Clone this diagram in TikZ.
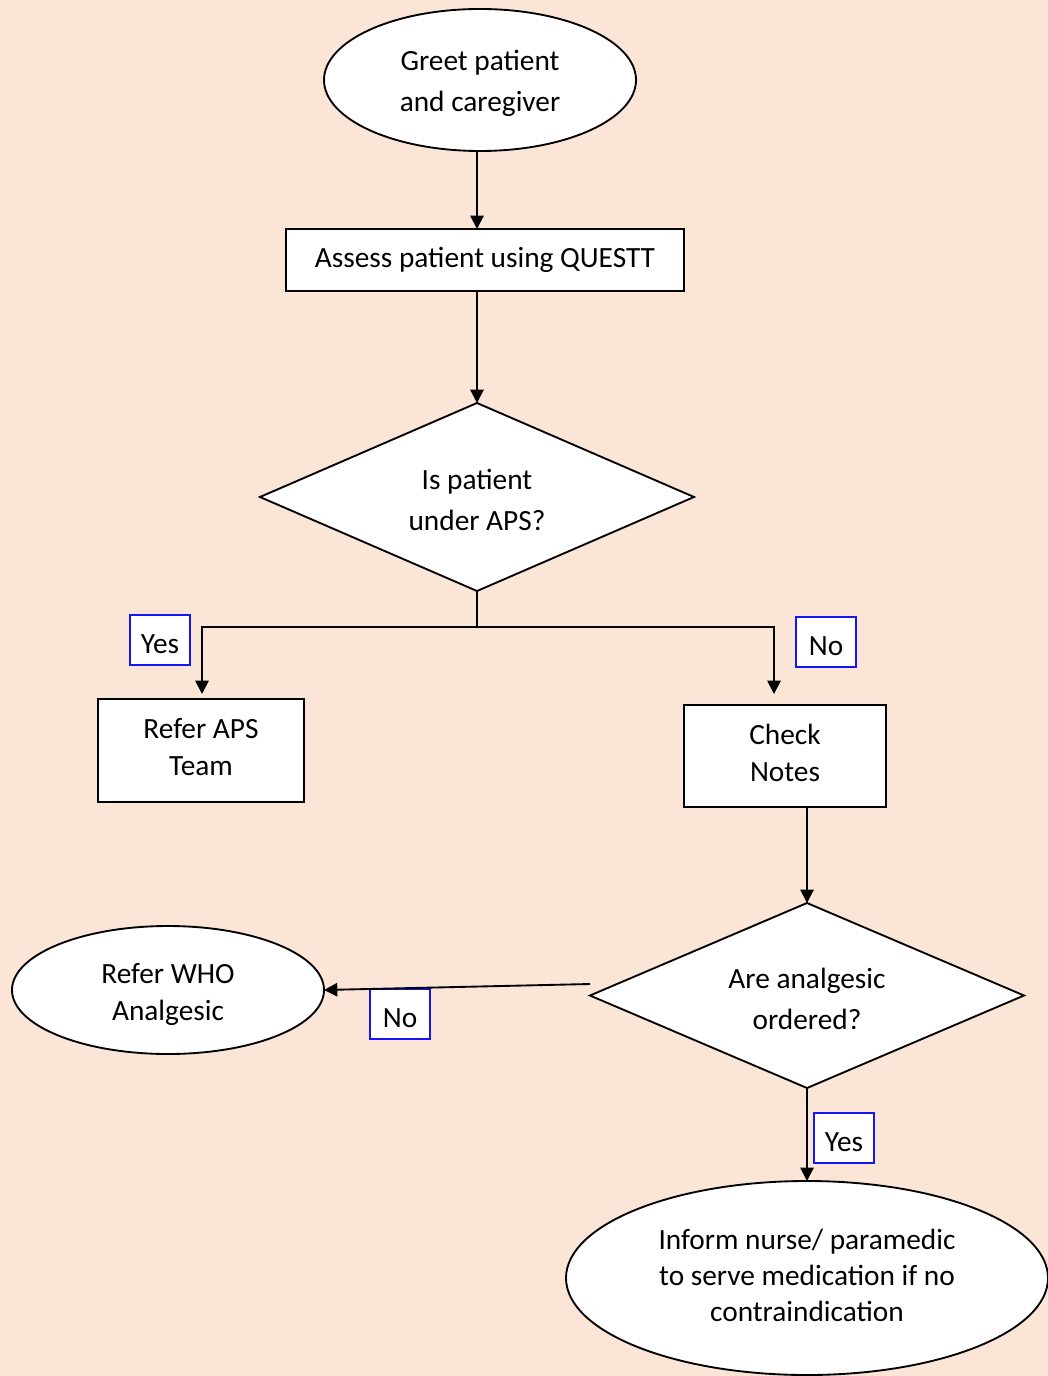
\documentclass[tikz,border=0pt]{standalone}
\usepackage{fontspec}
\setmainfont{Carlito}
\usetikzlibrary{shapes.geometric,arrows.meta}
\definecolor{bgpeach}{RGB}{251,229,214}
\definecolor{lblblue}{RGB}{20,20,245}
\begin{document}
\begin{tikzpicture}[x=0.75pt,y=-0.75pt,
  every node/.style={inner sep=0pt,outer sep=0pt,align=center},
  shp/.style={draw=black,fill=white,line width=1.4pt,font=\fontsize{22}{27.75}\selectfont},
  widefont/.style={font=\fontsize{22}{31}\selectfont},
  ell/.style={shp,ellipse},
  box/.style={shp,rectangle},
  dia/.style={shp,diamond,aspect=2.3},
  lbl/.style={draw=lblblue,fill=white,line width=1.3pt,minimum width=45pt,minimum height=37.5pt,text height=20pt,text depth=0pt,font=\fontsize{22}{26}\selectfont},
  arr/.style={line width=1.4pt,-{Triangle[width=10pt,length=10pt]}},
  ln/.style={line width=1.4pt}]
\fill[bgpeach] (0,0) rectangle (1048,1376);
\useasboundingbox (0,0) rectangle (1048,1376);
\node[ell,widefont,minimum width=234pt,minimum height=106.5pt] (g) at (480,80) {\rule{0pt}{20pt}Greet patient\\and caregiver};
\node[box,minimum width=298.5pt,minimum height=46.5pt] (a) at (485,260) {Assess patient using QUESTT};
\node[dia,widefont,minimum width=325.5pt,minimum height=141pt] (d1) at (477,497) {\rule{0pt}{20pt}Is patient\\under APS?};
\node[box,minimum width=154.5pt,minimum height=77.25pt] (ra) at (201,750.5) {Refer APS\\Team\rule[-6pt]{0pt}{0pt}};
\node[box,minimum width=151.5pt,minimum height=76.5pt] (cn) at (785,756) {Check\\Notes\rule[-5pt]{0pt}{0pt}};
\node[dia,widefont,minimum width=325.5pt,minimum height=138.75pt] (d2) at (807,995.5) {\rule{0pt}{20pt}Are analgesic\\ordered?};
\node[ell,minimum width=234pt,minimum height=96pt] (who) at (168,990) {\rule{0pt}{22pt}Refer WHO\\Analgesic};
\node[ell,font=\fontsize{22}{27}\selectfont,minimum width=361.5pt,minimum height=145.5pt] (inf) at (807,1278) {Inform nurse/ paramedic\\to serve medication if no\\contraindication\rule[-4pt]{0pt}{0pt}};
\node[lbl] (l1) at (160,640) {Yes};
\node[lbl] (l2) at (826,642) {No};
\node[lbl] (l3) at (400,1014) {No};
\node[lbl] (l4) at (844,1138) {Yes};
\coordinate (j) at (477,627);
\coordinate (yesEnd) at (202,694);
\coordinate (noEnd) at (774,694);
\coordinate (d2out) at (590,984);
\draw[arr] (g.south -| d1.north) -- (a.north -| d1.north);
\draw[arr] (a.south -| d1.north) -- (d1.north);
\draw[ln] (d1.south) -- (j);
\draw[arr] (j) -| (yesEnd);
\draw[arr] (j) -| (noEnd);
\draw[arr] (cn.south -| d2.north) -- (d2.north);
\draw[arr] (d2out) -- (who.east);
\draw[arr] (d2.south) -- (inf.north);
\end{tikzpicture}
\end{document}
